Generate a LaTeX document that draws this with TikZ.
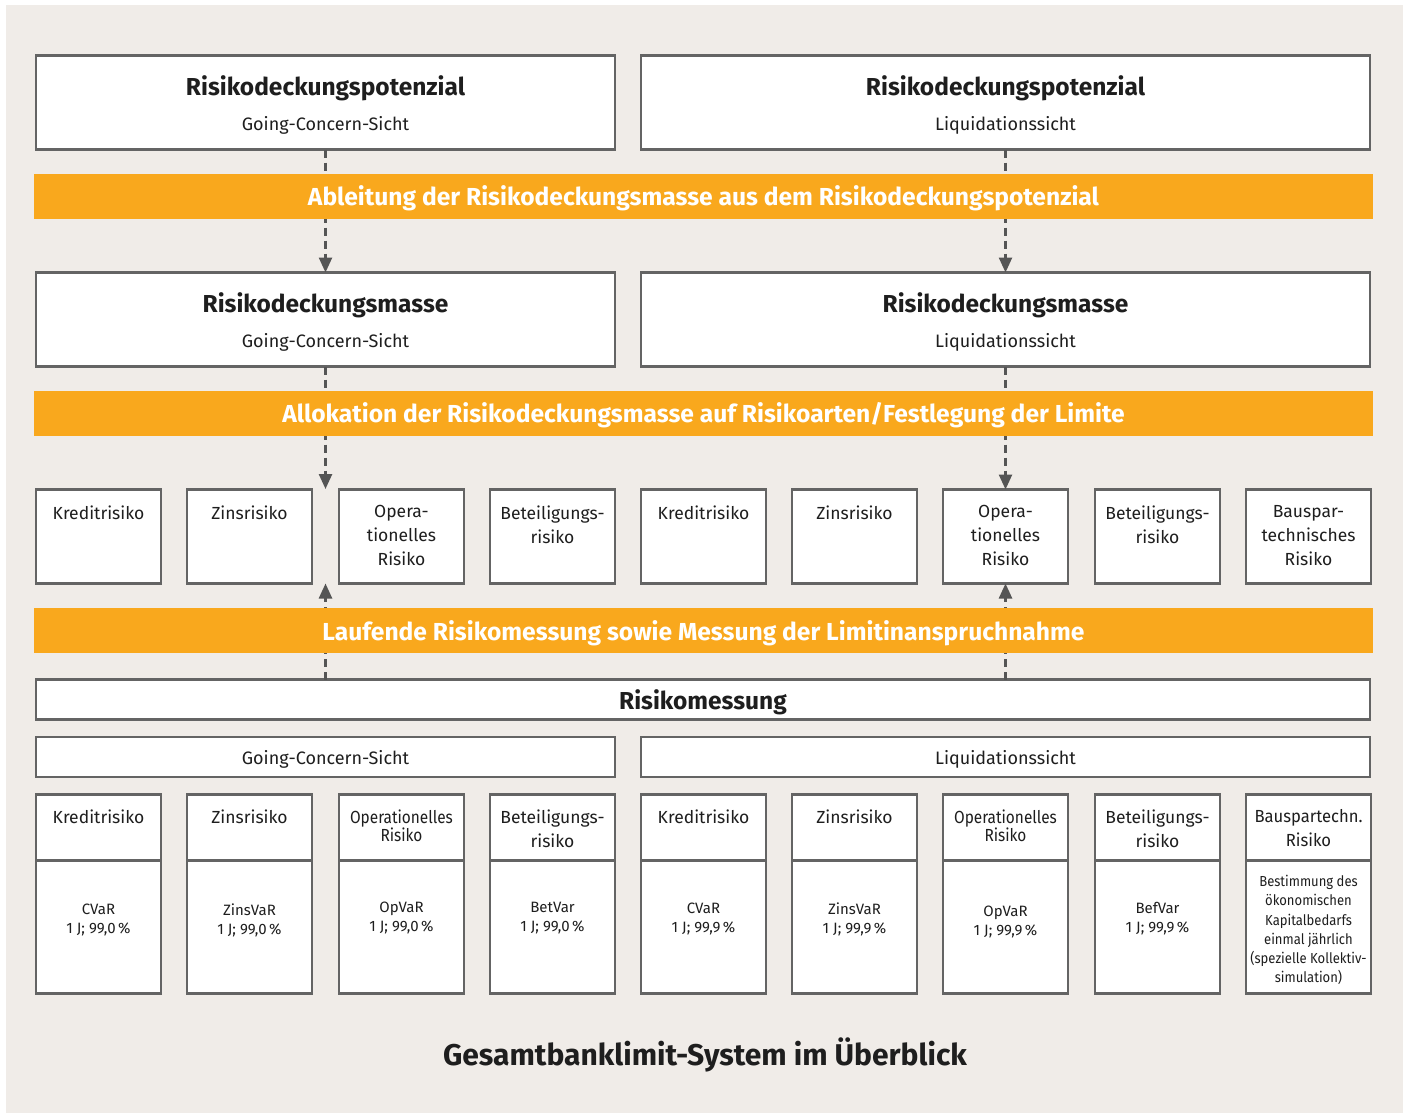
\documentclass[tikz,border=0pt]{standalone}
\usepackage{fontspec}
\setmainfont{Fira Sans}
\usetikzlibrary{arrows.meta}
\definecolor{bgc}{HTML}{F0ECE8}
\definecolor{orc}{HTML}{F9A81D}
\definecolor{bdc}{HTML}{646464}
\definecolor{txc}{HTML}{1E1E1E}
\definecolor{arc}{HTML}{555555}
\begin{document}
\begin{tikzpicture}[x=1pt,y=-1pt,
  box/.style={draw=bdc, line width=2.6pt, fill=white, inner sep=0pt, outer sep=0pt, anchor=north west},
  headtxt/.style={font=\fontsize{24.5}{28}\selectfont\bfseries, text=txc},
  subtxt/.style={font=\fontsize{18}{22}\selectfont, text=txc},
  smalltxt/.style={font=\fontsize{17.5}{24}\selectfont, text=txc, align=center, anchor=north, inner sep=0pt},
  bodytxt/.style={font=\fontsize{15}{19.2}\selectfont, text=txc, align=center},
  bandtxt/.style={font=\fontsize{24.6}{28}\selectfont\bfseries, text=white},
  band/.style={fill=orc},
  dasharrow/.style={draw=arc, line width=2.5pt, dash pattern=on 8pt off 5pt, -{Triangle[length=15pt,width=13pt]}}
]
\useasboundingbox (0,0) rectangle (1410,1113);
\fill[white] (0,0) rectangle (1410,1113);
\fill[bgc] (6,5) rectangle (1403,1113);

% top boxes
\node[box, minimum width=579, minimum height=94] (tl) at (36,55.5) {};
\node[box, minimum width=729, minimum height=94] (tr) at (641,55.5) {};
\node[headtxt] (tlh) at (325.5,88) {Risikodeckungspotenzial};
\node[subtxt] (tls) at (325.5,125) {Going-Concern-Sicht};
\node[headtxt] (trh) at (1005.5,88) {Risikodeckungspotenzial};
\node[subtxt] (trs) at (1005.5,125) {Liquidationssicht};

% second boxes
\node[box, minimum width=579, minimum height=94] (ml) at (36,272.5) {};
\node[box, minimum width=729, minimum height=94] (mr) at (641,272.5) {};
\node[headtxt] (mlh) at (325.5,305) {Risikodeckungsmasse};
\node[subtxt] (mls) at (325.5,342) {Going-Concern-Sicht};
\node[headtxt] (mrh) at (1005.5,305) {Risikodeckungsmasse};
\node[subtxt] (mrs) at (1005.5,342) {Liquidationssicht};

% small boxes row
\foreach \n/\x in {s1/36,s2/187,s3/339,s4/490,s5/641,s6/792,s7/943,s8/1095,s9/1246}{
  \node[box, minimum width=125, minimum height=94] (\n) at (\x,489.5) {};
}
\node[smalltxt] (s1t) at (s1.north) [yshift=-16pt] {Kreditrisiko};
\node[smalltxt] (s2t) at (s2.north) [yshift=-16pt] {Zinsrisiko};
\node[smalltxt] (s3t) at (s3.north) [yshift=-16pt] {Opera-\\tionelles\\Risiko};
\node[smalltxt] (s4t) at (s4.north) [yshift=-16pt] {Beteiligungs-\\risiko};
\node[smalltxt] (s5t) at (s5.north) [yshift=-16pt] {Kreditrisiko};
\node[smalltxt] (s6t) at (s6.north) [yshift=-16pt] {Zinsrisiko};
\node[smalltxt] (s7t) at (s7.north) [yshift=-16pt] {Opera-\\tionelles\\Risiko};
\node[smalltxt] (s8t) at (s8.north) [yshift=-16pt] {Beteiligungs-\\risiko};
\node[smalltxt] (s9t) at (s9.north) [yshift=-16pt] {Bauspar-\\technisches\\Risiko};

% Risikomessung
\node[box, minimum width=1334, minimum height=40] (rm) at (36,679.5) {};
\node[headtxt] (rmt) at (703,702) {Risikomessung};
\node[box, minimum width=579, minimum height=40] (gl) at (36,737) {};
\node[box, minimum width=729, minimum height=40] (gr) at (641,737) {};
\node[subtxt] (glt) at ([yshift=-2pt]gl.center) {Going-Concern-Sicht};
\node[subtxt] (grt) at ([yshift=-2pt]gr.center) {Liquidationssicht};

% bottom boxes
\foreach \n/\x in {b1/36,b2/187,b3/339,b4/490,b5/641,b6/792,b7/943,b8/1095,b9/1246}{
  \node[box, minimum width=125, minimum height=66] (\n h) at (\x,794.5) {};
  \node[box, minimum width=125, minimum height=133] (\n b) at (\x,860.5) {};
}
\node[smalltxt] (b1t) at (b1h.north) [yshift=-15pt] {Kreditrisiko};
\node[smalltxt] (b2t) at (b2h.north) [yshift=-15pt] {Zinsrisiko};
\node[smalltxt, font=\fontsize{17.5}{18}\selectfont\addfontfeatures{FakeStretch=0.88}] (b3t) at (b3h.north) [yshift=-15pt] {Operationelles\\Risiko};
\node[smalltxt] (b4t) at (b4h.north) [yshift=-15pt] {Beteiligungs-\\risiko};
\node[smalltxt] (b5t) at (b5h.north) [yshift=-15pt] {Kreditrisiko};
\node[smalltxt] (b6t) at (b6h.north) [yshift=-15pt] {Zinsrisiko};
\node[smalltxt, font=\fontsize{17.5}{18}\selectfont\addfontfeatures{FakeStretch=0.88}] (b7t) at (b7h.north) [yshift=-15pt] {Operationelles\\Risiko};
\node[smalltxt] (b8t) at (b8h.north) [yshift=-15pt] {Beteiligungs-\\risiko};
\node[smalltxt, font=\fontsize{17.5}{24}\selectfont\addfontfeatures{FakeStretch=0.95}] (b9t) at (b9h.north) [yshift=-15pt] {Bauspartechn.\\Risiko};

\node[bodytxt] (b1x) at (98.5,920) {CVaR\\1 J; 99,0\,\%};
\node[bodytxt] (b2x) at (249.5,920) {ZinsVaR\\1 J; 99,0\,\%};
\node[bodytxt] (b3x) at (401.5,918) {OpVaR\\1 J; 99,0\,\%};
\node[bodytxt] (b4x) at (552.5,918) {BetVar\\1 J; 99,0\,\%};
\node[bodytxt] (b5x) at (703.5,919) {CVaR\\1 J; 99,9\,\%};
\node[bodytxt] (b6x) at (854.5,919) {ZinsVaR\\1 J; 99,9\,\%};
\node[bodytxt] (b7x) at (1005.5,922) {OpVaR\\1 J; 99,9\,\%};
\node[bodytxt] (b8x) at (1157.5,919) {BefVar\\1 J; 99,9\,\%};
\node[bodytxt, font=\fontsize{14.5}{19.2}\selectfont\addfontfeatures{FakeStretch=0.9}] (b9x) at (1308.5,930) {Bestimmung des\\ökonomischen\\Kapitalbedarfs\\einmal jährlich\\(spezielle Kollektiv-\\simulation)};

% title
\node[font=\fontsize{30}{34}\selectfont\bfseries, text=txc] (title) at (705,1055) {Gesamtbanklimit-System im Überblick};

% connectors
\coordinate (c1) at (325.5,489);
\coordinate (c2) at (325.5,583.5);
\draw[dasharrow] (tl.south) -- (ml.north);
\draw[dasharrow] (tr.south) -- (mr.north);
\draw[dasharrow] (ml.south) -- (c1);
\draw[dasharrow] (mr.south) -- (s7.north);
\draw[dasharrow] (rm.north -| c2) -- (c2);
\draw[dasharrow] (rm.north -| s7.south) -- (s7.south);

% bands
\fill[band] (34,174) rectangle (1373,219);
\node[bandtxt] (band1) at (703.5,198) {Ableitung der Risikodeckungsmasse aus dem Risikodeckungspotenzial};
\fill[band] (34,391) rectangle (1373,436);
\node[bandtxt] (band2) at (703.5,415) {Allokation der Risikodeckungsmasse auf Risikoarten/Festlegung der Limite};
\fill[band] (34,608) rectangle (1373,653);
\node[bandtxt] (band3) at (703.5,633) {Laufende Risikomessung sowie Messung der Limitinanspruchnahme};
\end{tikzpicture}
\end{document}
